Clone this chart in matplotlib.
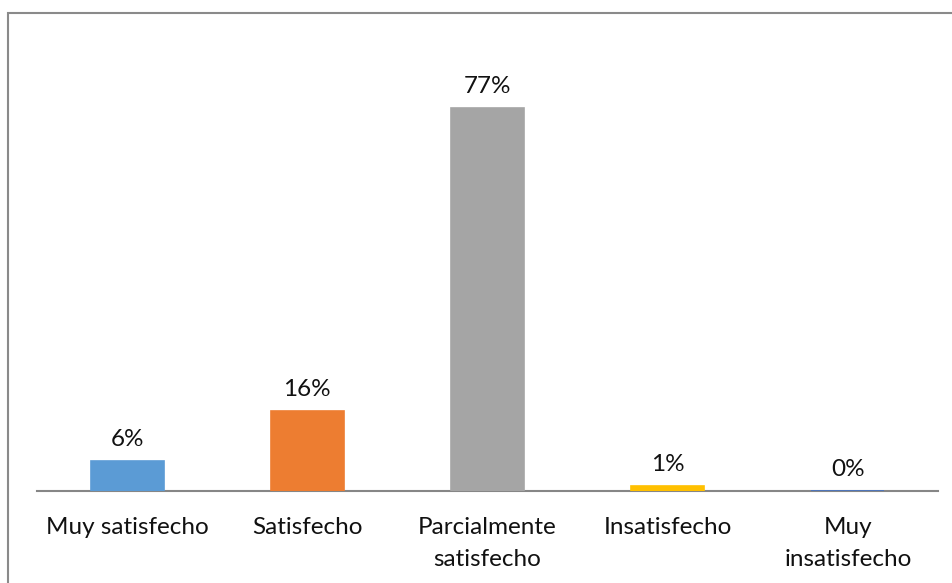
import matplotlib.pyplot as plt
from matplotlib.patches import Rectangle

categorias = ["Muy satisfecho", "Satisfecho", "Parcialmente\nsatisfecho",
              "Insatisfecho", "Muy\ninsatisfecho"]
porcentajes = [6, 16, 77, 1, 0]
colores = ["#5B9BD5", "#ED7D31", "#A5A5A5", "#FFC000", "#4472C4"]

plt.rcParams['font.family'] = ['Lato', 'DejaVu Sans']

fig = plt.figure(figsize=(9.52, 5.83), dpi=100)
ax = fig.add_axes([37 / 952, 92 / 583, 901 / 952, 450 / 583])

x = range(len(categorias))
bars = ax.bar(x, porcentajes, width=0.405, color=colores,
              edgecolor=colores, linewidth=1.2, zorder=3)

for xi, v in zip(x, porcentajes):
    ax.annotate(f"{v}%", (xi, v), xytext=(0, 8), textcoords="offset points",
                ha="center", va="bottom", fontsize=17.5, color="#111111")

ax.set_xlim(-0.5, len(categorias) - 0.5)
ax.set_ylim(0, 90.5)
ax.set_xticks(list(x))
ax.set_xticklabels(categorias, fontsize=17.5, color="#111111", linespacing=1.6)
ax.tick_params(axis="x", length=0, pad=19)
ax.set_yticks([])
for s in ["top", "right", "left"]:
    ax.spines[s].set_visible(False)
ax.spines["bottom"].set_color("#868686")
ax.spines["bottom"].set_linewidth(1.5)

# chart area border
fig.patches.append(Rectangle((8 / 952, -0.5), 2, 1.5 - 13 / 583,
                             transform=fig.transFigure, fill=False,
                             edgecolor="#8a8a8a", linewidth=1.5))

fig.savefig("out.png", dpi=100)
